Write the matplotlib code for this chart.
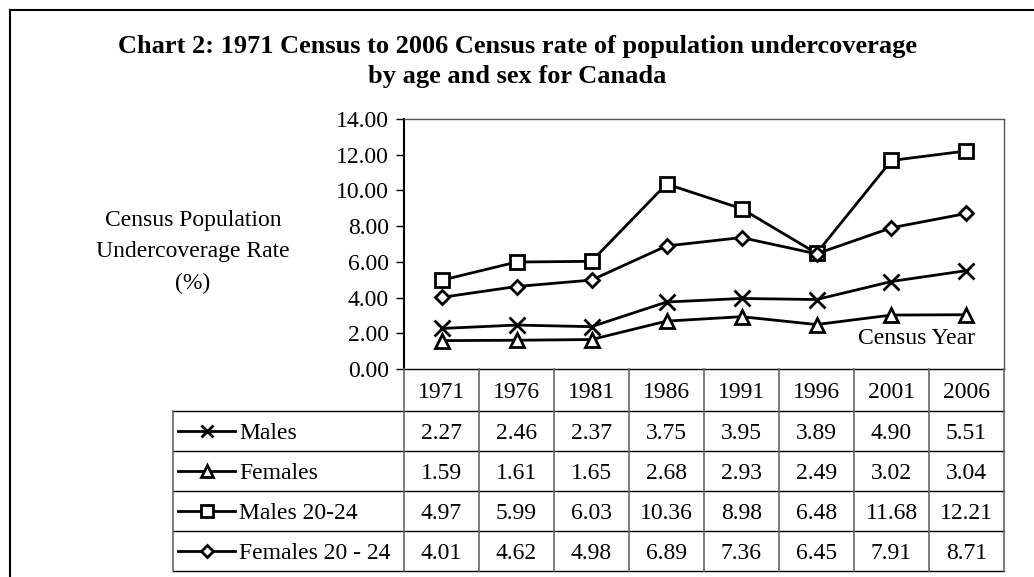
import matplotlib.pyplot as plt
from matplotlib.lines import Line2D

# census years and undercoverage rates (%)
years = ["1971", "1976", "1981", "1986", "1991", "1996", "2001", "2006"]
males = [2.27, 2.46, 2.37, 3.75, 3.95, 3.89, 4.90, 5.51]
females = [1.59, 1.61, 1.65, 2.68, 2.93, 2.49, 3.02, 3.04]
males_2024 = [4.97, 5.99, 6.03, 10.36, 8.98, 6.48, 11.68, 12.21]
females_2024 = [4.01, 4.62, 4.98, 6.89, 7.36, 6.45, 7.91, 8.71]
series_names = ["Males", "Females", "Males 20-24", "Females 20 - 24"]
series_markers = ["x", "^", "s", "D"]
y_ticks = [0, 2, 4, 6, 8, 10, 12, 14]

plt.rcParams['font.family'] = ['Liberation Serif', 'DejaVu Serif']
FS = 17

W, H = 1034, 577
fig = plt.figure(figsize=(W / 100, H / 100), dpi=100)

def fx(px):
    return px / W

def fy(py):
    return 1 - py / H

# outer frame (top and left only)
fig.add_artist(Line2D([fx(9.5), 1], [fy(9.5), fy(9.5)], color="black", lw=1.5))
fig.add_artist(Line2D([fx(9.5), fx(9.5)], [fy(9.5), 0], color="black", lw=1.5))

fig.text(fx(517), fy(47), "Chart 2: 1971 Census to 2006 Census rate of population undercoverage",
         ha="center", va="center", fontsize=19, fontweight="bold")
fig.text(fx(517), fy(77), "by age and sex for Canada",
         ha="center", va="center", fontsize=19, fontweight="bold")
for i, line in enumerate(["Census Population", "Undercoverage Rate", "(%)"]):
    fig.text(fx(193), fy(218 + i * 31.5), line, ha="center", va="center_baseline", fontsize=FS)

left, right, top, bottom = 404, 1004, 119, 369
ax = fig.add_axes([fx(left), fy(bottom), fx(right - left), (bottom - top) / H])

series = [males, females, males_2024, females_2024]
xs = [i + 0.5 for i in range(len(years))]
marker_size = {"x": 11, "^": 10, "s": 10, "D": 7.5}
for vals, mk in zip(series, series_markers):
    ax.plot(xs, vals, color="black", lw=2, marker=mk, ms=marker_size[mk],
            mfc="white", mec="black", mew=2)

ax.set_xlim(0, len(years))
ax.set_ylim(0, 14)
ax.set_yticks(y_ticks)
ax.set_yticklabels([f"{t:.2f}" for t in y_ticks], fontsize=FS)
ax.set_xticks([])
ax.tick_params(axis="y", direction="out", length=6, width=1, pad=5)
for s in ["top", "right"]:
    ax.spines[s].set_color("#555555")
    ax.spines[s].set_linewidth(1)
ax.spines["left"].set_linewidth(1.5)
ax.spines["bottom"].set_linewidth(1)
ax.text(0.952, 0.124, "Census Year", transform=ax.transAxes, ha="right", va="center",
        fontsize=FS)

# data table below the chart
tl, tt, tb = 173, 369, 572
tax = fig.add_axes([fx(tl), fy(tb), fx(right - tl), (tb - tt) / H])
lab_w = (left - tl) / 75.0
tax.set_xlim(-lab_w, len(years))
tax.set_ylim(tb - tt, 0)
tax.axis("off")

head_h = 42
row_h = 40
grey = "#666666"
# horizontal lines
for r in range(len(series) + 1):
    yv = head_h + r * row_h
    tax.plot([-lab_w, len(years)], [yv, yv], color="black", lw=1, clip_on=False)
# vertical lines
tax.plot([-lab_w, -lab_w], [head_h, head_h + len(series) * row_h], color=grey, lw=1.2, clip_on=False)
for c in range(len(years) + 1):
    tax.plot([c, c], [0, head_h + len(series) * row_h], color=grey, lw=1.2, clip_on=False)

for c, yr in enumerate(years):
    tax.text(c + 0.5, head_h / 2, yr, ha="center", va="center_baseline", fontsize=FS)

for r, (name, vals, mk) in enumerate(zip(series_names, series, series_markers)):
    yc = head_h + r * row_h + row_h / 2
    x0 = -lab_w + 5 / 75
    x1 = -lab_w + 62 / 75
    tax.plot([x0, x1], [yc, yc], color="black", lw=2)
    tax.plot([(x0 + x1) / 2], [yc], marker=mk, ms=8 if mk != "D" else 6.5,
             mfc="white", mec="black", mew=2, color="black")
    tax.text(-lab_w + 66 / 75, yc, name, ha="left", va="center_baseline", fontsize=FS)
    for c, v in enumerate(vals):
        tax.text(c + 0.5, yc, f"{v:.2f}", ha="center", va="center_baseline", fontsize=FS)

fig.savefig("out.png", dpi=100)
